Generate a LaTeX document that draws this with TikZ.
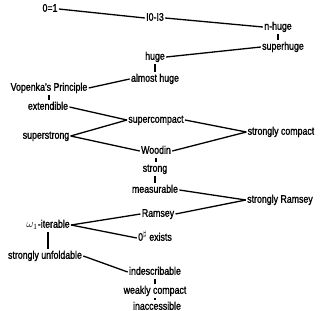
\documentclass[tikz,border=0pt]{standalone}
\usepackage{fontspec}
\setmainfont[FakeStretch=0.8,FakeBold=1.2]{Liberation Sans}
\begin{document}
\begin{tikzpicture}[x=1pt,y=-1pt,
  lbl/.style={inner sep=1.2pt,font=\fontsize{11}{13}\selectfont,text height=7.5pt,text depth=2pt},
  ln/.style={line width=1.3pt},
  vl/.style={line width=1.5pt,shorten <=1pt,shorten >=1pt}]
\useasboundingbox (0,0) rectangle (330,311);
\node[lbl] (z) at (50,9) {0=1};
\node[lbl] (i) at (155,18) {I0-I3};
\node[lbl] (nh) at (278,27) {n-huge};
\node[lbl] (sh) at (283,47) {superhuge};
\node[lbl] (h) at (155,57) {huge};
\node[lbl] (ah) at (155,79) {almost huge};
\node[lbl] (v) at (49,88) {Vopenka's Principle};
\node[lbl] (ex) at (48,107) {extendible};
\node[lbl] (sc) at (156,120) {supercompact};
\node[lbl] (ss) at (46,136) {superstrong};
\node[lbl] (stc) at (281,132) {strongly compact};
\node[lbl] (w) at (156,151) {Woodin};
\node[lbl] (st) at (155,169) {strong};
\node[lbl] (m) at (155,190) {measurable};
\node[lbl] (sr) at (280,200) {strongly Ramsey};
\node[lbl] (r) at (158,214) {Ramsey};
\node[lbl] (om) at (48,225) {$\omega_1$-iterable};
\node[lbl] (zs) at (155,238) {0$^\sharp$ exists};
\node[lbl] (su) at (45,256) {strongly unfoldable};
\node[lbl] (ind) at (155,272) {indescribable};
\node[lbl] (wc) at (155,291) {weakly compact};
\node[lbl] (ina) at (157,307) {inaccessible};
\draw[ln] (z.east) -- (i.west);
\draw[ln] (i.east) -- (nh.west);
\draw[vl] (nh.south) -- (nh.south |- sh.north);
\draw[ln] (sh.west) -- (h.east);
\draw[vl] (h.south) -- (h.south |- ah.north);
\draw[ln] (ah.west) -- (v.east);
\draw[vl] (v.south) -- (v.south |- ex.north);
\draw[ln] (ex.east) -- (sc.west);
\draw[ln] (ss.east) -- (sc.west);
\draw[ln] (sc.east) -- (stc.west);
\draw[ln] (ss.east) -- (w.west);
\draw[ln] (w.east) -- (stc.west);
\draw[vl] (w.south) -- (w.south |- st.north);
\draw[vl] (st.south) -- (st.south |- m.north);
\draw[ln] (m.east) -- (sr.west);
\draw[ln] (sr.west) -- (r.east);
\draw[ln] (r.west) -- (om.east);
\draw[ln] (om.east) -- (zs.west);
\draw[vl] (om.south) -- (om.south |- su.north);
\draw[ln] (su.east) -- (ind.west);
\draw[vl] (ind.south) -- (ind.south |- wc.north);
\draw[vl] (wc.south) -- (wc.south |- ina.north);
\end{tikzpicture}
\end{document}
